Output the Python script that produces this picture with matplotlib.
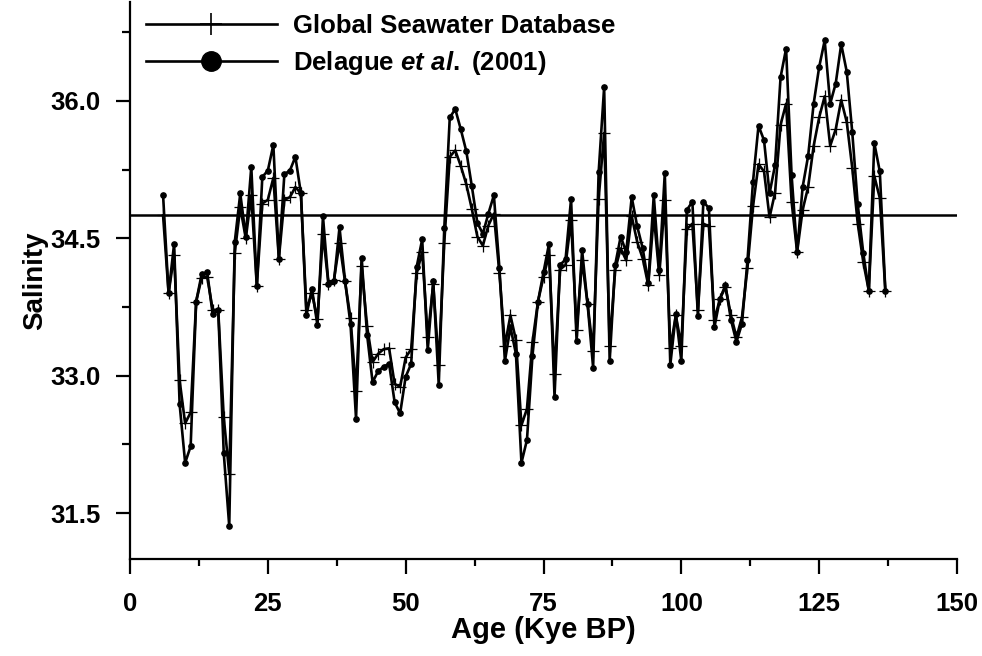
import numpy as np
import matplotlib.pyplot as plt
from matplotlib.ticker import MultipleLocator

plt.rcParams['font.family'] = 'Liberation Sans'
plt.rcParams['font.weight'] = 'bold'
plt.rcParams['mathtext.fontset'] = 'custom'
plt.rcParams['mathtext.rm'] = 'Liberation Sans:bold'
plt.rcParams['mathtext.it'] = 'Liberation Sans:italic:bold'

# ages 6..137 kyr BP, one sample per kyr
age = np.arange(6, 138)

delague = [
    34.97, 33.90, 34.44, 32.69, 32.05, 32.23, 33.81, 34.11, 34.13, 33.67,
    33.72, 32.16, 31.36, 34.46, 34.99, 34.52, 35.28, 33.98, 35.17, 35.24,
    35.52, 34.28, 35.20, 35.24, 35.39, 34.99, 33.66, 33.95, 33.55, 34.74,
    34.00, 34.03, 34.62, 34.04, 33.56, 32.53, 34.29, 33.45, 32.93, 33.05,
    33.10, 33.13, 32.71, 32.59, 32.99, 33.13, 34.19, 34.49, 33.28, 34.03,
    32.90, 34.61, 35.82, 35.91, 35.69, 35.45, 35.07, 34.67, 34.55, 34.77,
    34.97, 34.18, 33.16, 33.53, 33.24, 32.05, 32.30, 33.22, 33.81, 34.13,
    34.44, 32.77, 34.21, 34.27, 34.93, 33.38, 34.37, 33.78, 33.09, 35.22,
    36.15, 33.16, 34.21, 34.52, 34.35, 34.95, 34.63, 34.39, 34.01, 34.97,
    34.15, 35.21, 33.12, 33.67, 33.16, 34.81, 34.90, 33.65, 34.90, 34.83,
    33.53, 33.84, 33.99, 33.61, 33.37, 33.57, 34.26, 35.12, 35.73, 35.57,
    34.99, 35.30, 36.26, 36.57, 35.19, 34.35, 35.06, 35.40, 35.97, 36.37,
    36.66, 35.97, 36.19, 36.62, 36.32, 35.66, 34.87, 34.34, 33.93, 35.54,
    35.23, 33.93,
]

global_sw = [
    34.75, 33.90, 34.32, 32.95, 32.48, 32.60, 33.81, 34.07, 34.08, 33.72,
    33.72, 32.55, 31.93, 34.34, 34.84, 34.50, 34.97, 33.98, 34.88, 34.92,
    35.16, 34.28, 34.92, 34.95, 35.06, 34.99, 33.72, 33.90, 33.62, 34.55,
    34.00, 34.05, 34.45, 34.03, 33.63, 32.83, 34.20, 33.54, 33.15, 33.24,
    33.29, 33.30, 32.91, 32.88, 33.20, 33.29, 34.12, 34.35, 33.42, 34.00,
    33.12, 34.45, 35.39, 35.46, 35.29, 35.09, 34.82, 34.52, 34.42, 34.64,
    34.77, 34.12, 33.33, 33.66, 33.39, 32.46, 32.64, 33.37, 33.81, 34.08,
    34.32, 33.02, 34.16, 34.21, 34.70, 33.50, 34.26, 33.78, 33.27, 34.93,
    35.65, 33.33, 34.16, 34.39, 34.26, 34.74, 34.46, 34.28, 33.99, 34.75,
    34.10, 34.92, 33.30, 33.66, 33.33, 34.60, 34.66, 33.72, 34.66, 34.63,
    33.61, 33.84, 33.97, 33.66, 33.42, 33.64, 34.18, 34.85, 35.31, 35.23,
    34.73, 35.00, 35.74, 35.97, 34.90, 34.35, 34.81, 35.06, 35.51, 35.82,
    36.05, 35.51, 35.69, 36.01, 35.77, 35.27, 34.66, 34.24, 33.93, 35.18,
    34.94, 33.93,
]

mean_salinity = 34.75

fig = plt.figure(figsize=(9.82, 6.56), dpi=100)
ax = fig.add_axes([130 / 982, 1 - 559 / 656, 827 / 982, 557 / 656])

ax.axhline(mean_salinity, color='black', lw=1.8, zorder=1)
ax.plot(age, global_sw, color='black', lw=1.9, marker='+', ms=8, mew=0.9,
        label='Global Seawater Database', zorder=2)
ax.plot(age, delague, color='black', lw=1.9, marker='o', ms=3.8,
        label=r'Delague $et\ al.$ (2001)', zorder=3)

ax.set_xlim(0, 150)
ax.set_ylim(31.0, 37.08)
ax.xaxis.set_major_locator(MultipleLocator(25))
ax.xaxis.set_minor_locator(MultipleLocator(12.5))
ax.yaxis.set_minor_locator(MultipleLocator(0.75))
ax.set_yticks([31.5, 33.0, 34.5, 36.0])
ax.set_yticklabels(['31.5', '33.0', '34.5', '36.0'])

ax.spines['top'].set_visible(False)
ax.spines['right'].set_visible(False)
ax.spines['left'].set_linewidth(1.6)
ax.spines['bottom'].set_linewidth(1.6)
ax.tick_params(axis='x', which='major', length=10.5, width=1.6, labelsize=18.5, pad=13)
ax.tick_params(axis='x', which='minor', length=5, width=1.6)
ax.tick_params(axis='y', which='major', length=10, width=1.6, labelsize=18.5, pad=11)
ax.tick_params(axis='y', which='minor', length=6, width=1.6)

ax.set_xlabel('Age (Kye BP)', fontsize=21, fontweight='bold', labelpad=0)
ax.set_ylabel('Salinity', fontsize=20, fontweight='bold', labelpad=2)

leg = ax.legend(loc='upper left', bbox_to_anchor=(0.0193, 0.979), frameon=False,
                fontsize=18.5, handlelength=5.1, handletextpad=0.62,
                labelspacing=0.45, borderpad=0, borderaxespad=0)
leg.legend_handles[0].set_markersize(16)
leg.legend_handles[0].set_markeredgewidth(1.2)
leg.legend_handles[1].set_markersize(14)

fig.savefig('out.png', dpi=100)
